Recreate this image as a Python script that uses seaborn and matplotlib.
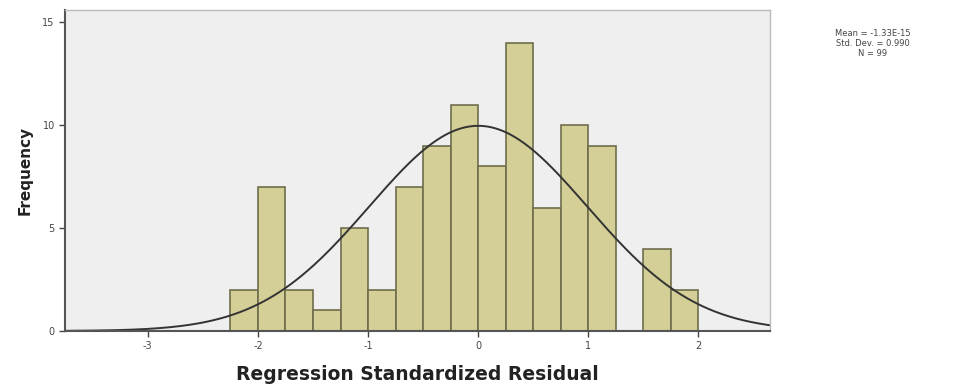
import numpy as np
import pandas as pd
import matplotlib
matplotlib.use("Agg")
import matplotlib.pyplot as plt
import seaborn as sns

# Histogram of standardized residuals (bin width 0.25)
bin_edges = [-2.25, -2.0, -1.75, -1.5, -1.25, -1.0, -0.75, -0.5, -0.25,
             0.0, 0.25, 0.5, 0.75, 1.0, 1.25, 1.5, 1.75, 2.0]
counts = [2, 7, 2, 1, 5, 2, 7, 9, 11, 8, 14, 6, 10, 9, 0, 4, 2]
x_ticks = [-3, -2, -1, 0, 1, 2]
y_ticks = [0, 5, 10, 15]
stats_mean = -1.33e-15
stats_sd = 0.990
stats_n = 99

centers = [(a + b) / 2 for a, b in zip(bin_edges[:-1], bin_edges[1:])]
df = pd.DataFrame({"resid": centers, "count": counts})

sns.set_style("white")
plt.rcParams["font.family"] = ["DejaVu Sans"]

fig = plt.figure(figsize=(9.59, 3.88), dpi=100)
ax = fig.add_axes([0.068, 0.147, 0.735, 0.827])
ax.set_facecolor("#efefef")

sns.histplot(data=df, x="resid", weights="count", bins=bin_edges,
             color="#d4cf96", edgecolor="#6f6d4c", linewidth=1.2,
             alpha=1.0, ax=ax)

# Normal curve scaled to the histogram
xs = np.linspace(-3.75, 2.65, 400)
bw = bin_edges[1] - bin_edges[0]
pdf = np.exp(-0.5 * ((xs - stats_mean) / stats_sd) ** 2) / (stats_sd * np.sqrt(2 * np.pi))
sns.lineplot(x=xs, y=stats_n * bw * pdf, color="#333333", linewidth=1.4, ax=ax)

ax.set_xlim(-3.75, 2.65)
ax.set_ylim(0, 15.6)
ax.set_xticks(x_ticks)
ax.set_xticklabels([str(t) for t in x_ticks])
ax.set_yticks(y_ticks)
ax.set_yticklabels([str(t) for t in y_ticks])
ax.tick_params(axis="both", direction="out", length=4, width=1,
               labelsize=7, colors="#444444", bottom=True, left=True)

for side in ["left", "bottom"]:
    ax.spines[side].set_color("#555555")
    ax.spines[side].set_linewidth(1.5)
for side in ["top", "right"]:
    ax.spines[side].set_color("#bbbbbb")
    ax.spines[side].set_linewidth(1.0)

ax.set_xlabel("Regression Standardized Residual", fontsize=13.5,
              fontweight="bold", color="#222222", labelpad=10)
ax.set_ylabel("Frequency", fontsize=11, fontweight="bold",
              color="#222222", labelpad=7)

fig.text(0.91, 0.925,
         f"Mean = {stats_mean:.2E}\nStd. Dev. = {stats_sd:.3f}\nN = {stats_n}",
         ha="center", va="top", fontsize=6, color="#444444", linespacing=1.1)

fig.savefig("out.png", dpi=100)
